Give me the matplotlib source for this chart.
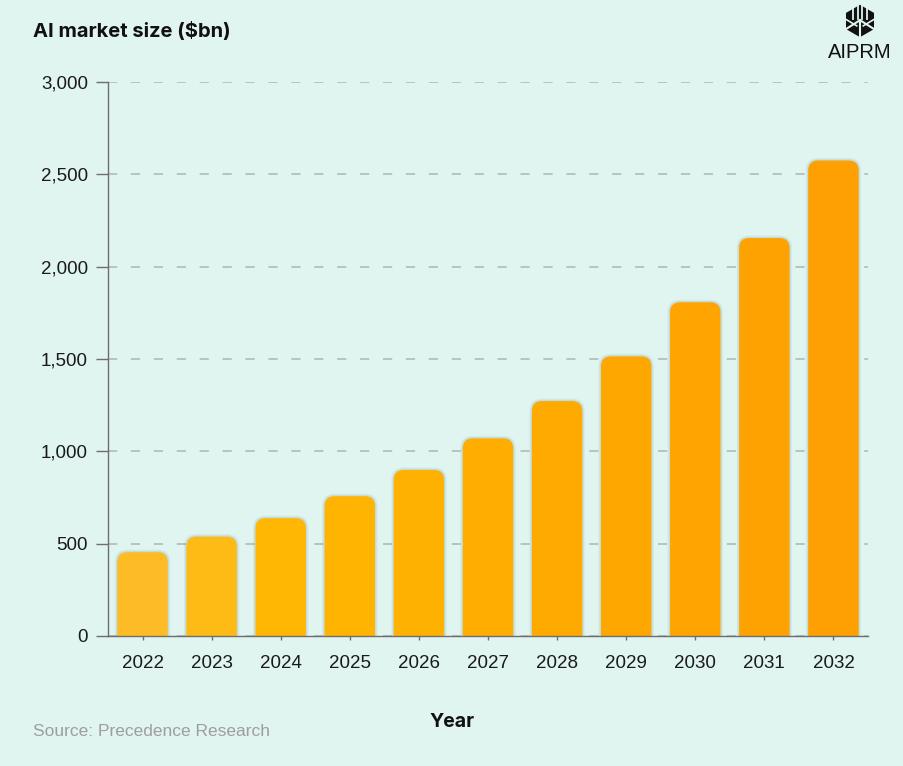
import matplotlib
matplotlib.use("Agg")
import matplotlib.pyplot as plt
from matplotlib.patches import FancyBboxPatch, Polygon
import matplotlib.colors as mcolors
import numpy as np

years = ["2022", "2023", "2024", "2025", "2026", "2027", "2028", "2029", "2030", "2031", "2032"]
market_size = [454, 538, 638, 757, 899, 1070, 1272, 1514, 1807, 2155, 2575]
y_ticks = [0, 500, 1000, 1500, 2000, 2500, 3000]
y_tick_labels = ["0", "500", "1,000", "1,500", "2,000", "2,500", "3,000"]

title = "AI market size ($bn)"
x_label = "Year"
source = "Source: Precedence Research"

BG = "#E0F4F0"
GRAD = [(0.0, "#FDBC26"), (0.2, "#FFB703"), (0.6, "#FFAA00"), (1.0, "#FE9F02")]

plt.rcParams["font.family"] = ["Inter", "DejaVu Sans"]
TICKFONT = ["Liberation Sans", "DejaVu Sans"]

fig = plt.figure(figsize=(9.04, 7.66), dpi=100, facecolor=BG)
ax = fig.add_axes([108 / 904, (766 - 636) / 766, 760 / 904, (636 - 82) / 766])
ax.set_facecolor(BG)

x = np.arange(len(years))
width = 0.73
cmap = mcolors.LinearSegmentedColormap.from_list("g", GRAD)
colors = [cmap(i / (len(years) - 1)) for i in range(len(years))]

bars = ax.bar(x, market_size, width=width, color=colors, zorder=3)

ax.set_xlim(-0.5, len(years) - 0.5)
ax.set_ylim(0, 3000)

# convert bars to rounded-top shapes
fig.canvas.draw()
px_x = ax.transData.transform((1, 0))[0] - ax.transData.transform((0, 0))[0]
px_y = ax.transData.transform((0, 1))[1] - ax.transData.transform((0, 0))[1]
r_px = 10
r_x = r_px / px_x
aspect = px_x / px_y
for b, c in zip(bars, colors):
    b.set_visible(False)
    x0, w, h = b.get_x(), b.get_width(), b.get_height()
    ext = r_px / px_y
    for k, a in [(2.5, 0.07), (1.3, 0.10)]:
        dx = k / px_x
        dy = k / px_y
        sh = FancyBboxPatch((x0 - dx, -ext * 2), w + 2 * dx, h + ext * 2 + dy,
                            boxstyle=f"round,pad=0,rounding_size={r_x + dx}",
                            mutation_aspect=aspect, facecolor="#3f6e6a", alpha=a,
                            edgecolor="none", zorder=2.5, clip_on=True)
        ax.add_patch(sh)
    p = FancyBboxPatch((x0, -ext * 2), w, h + ext * 2,
                       boxstyle=f"round,pad=0,rounding_size={r_x}",
                       mutation_aspect=aspect, facecolor=c, edgecolor="none",
                       zorder=3, clip_on=True)
    ax.add_patch(p)

ax.set_yticks(y_ticks)
ax.set_yticklabels(y_tick_labels, family=TICKFONT)
ax.set_xticks(x)
ax.set_xticklabels(years, family=TICKFONT)

ax.yaxis.grid(True, linestyle=(0, (6, 9)), color="#AEB5B3", linewidth=1.1, zorder=1)
ax.xaxis.grid(False)

for s in ["top", "right"]:
    ax.spines[s].set_visible(False)
for s in ["left", "bottom"]:
    ax.spines[s].set_color("#6E6E6E")
    ax.spines[s].set_linewidth(1.0)
    ax.spines[s].set_zorder(4)

ax.tick_params(axis="y", length=8.5, width=1, color="#6E6E6E", pad=6,
               labelsize=13.5, labelcolor="#1a1a1a")
ax.tick_params(axis="x", length=3, width=1, color="#6E6E6E", pad=11,
               labelsize=13.5, labelcolor="#1a1a1a")

# texts
fig.text(33 / 904, 1 - 32 / 766, title, fontsize=14.5, fontweight="bold",
         color="#111111", ha="left", va="center")
fig.text(452 / 904, 1 - 722 / 766, x_label, fontsize=14, fontweight="bold",
         color="#111111", ha="center", va="center")
fig.text(33 / 904, 1 - 732 / 766, source, fontsize=12.5, color="#9E9E9E",
         ha="left", va="center", family=TICKFONT)

# logo
fig.text(860 / 904, 1 - 52 / 766, "AIPRM", fontsize=14.5, color="#111111",
         ha="center", va="center", family=TICKFONT)
lax = fig.add_axes([840 / 904, 1 - 38 / 766, 40 / 904, 34 / 766])
lax.set_xlim(-1.1, 1.1)
lax.set_ylim(-1.05, 1.05)
lax.set_aspect("equal")
lax.axis("off")
ang = np.deg2rad(np.arange(90, 450, 60))
hexpts = np.c_[np.cos(ang), np.sin(ang)]
lax.add_patch(Polygon(hexpts, closed=True, facecolor="#111111", edgecolor="none"))
for xx in [-0.45, -0.15, 0.15, 0.45]:
    lax.plot([xx, xx], [0.15, 1.0], color=BG, lw=1.3)
lax.plot([0, 0], [-1.0, 0.0], color=BG, lw=1.5)
lax.plot([-0.87, 0], [-0.5, 0.05], color=BG, lw=1.5)
lax.plot([0.87, 0], [-0.5, 0.05], color=BG, lw=1.5)
lax.plot([-0.87, -0.2], [0.1, -0.3], color=BG, lw=1.2)
lax.plot([0.87, 0.2], [0.1, -0.3], color=BG, lw=1.2)

fig.savefig("out.png", dpi=100, facecolor=BG)
